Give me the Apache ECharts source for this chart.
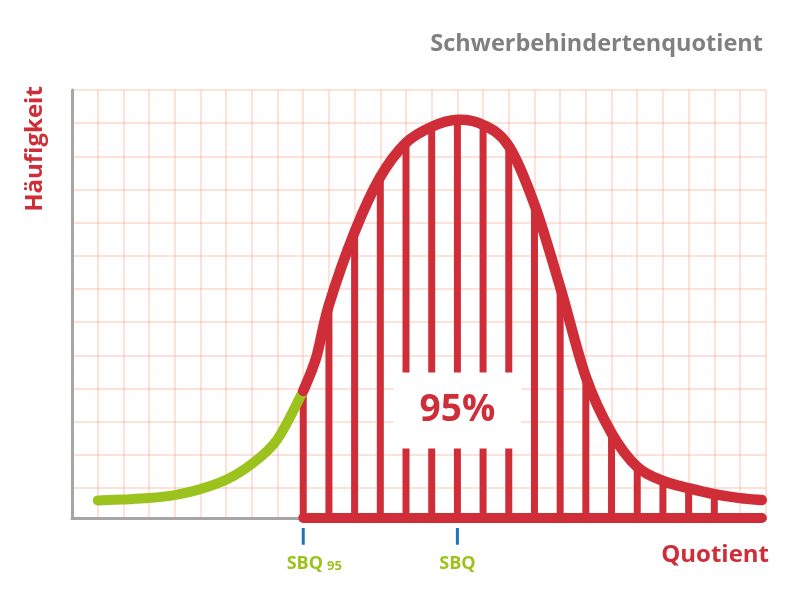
<!DOCTYPE html>
<html>
<head>
<meta charset="utf-8">
<script src="https://cdn.jsdelivr.net/npm/echarts@6/dist/echarts.min.js"></script>
<style>
html,body{margin:0;padding:0;background:#fff;}
#c{width:800px;height:593px;}
</style>
</head>
<body>
<div id="c"></div>
<script>
// ---- data ----
const titleText = 'Schwerbehindertenquotient';
const yTitle = 'Häufigkeit';
const xTitle = 'Quotient';
const centerLabel = '95%';
// green part of the curve (below SBQ95)
const greenX = [1, 2, 3, 4, 5, 6, 7, 8, 9];
const greenY = [0.53, 0.56, 0.60, 0.69, 0.87, 1.15, 1.63, 2.38, 3.83];
// red part of the curve (above SBQ95)
const redX = [9, 9.5, 10, 11, 12, 13, 14, 15, 16, 17, 18, 19, 20, 21, 22, 23, 24, 25, 26, 26.85];
const redY = [3.83, 4.82, 6.42, 8.62, 10.28, 11.31, 11.79, 12.0, 11.85, 11.21, 9.45, 6.96, 4.25, 2.56, 1.54, 1.12, 0.9, 0.72, 0.6, 0.54];
// hatch bars
const barX = [9, 10, 11, 12, 13, 14, 15, 16, 17, 18, 19, 20, 21, 22, 23, 24, 25];
const barY = [3.83, 6.42, 8.62, 10.28, 11.31, 11.79, 12.0, 11.85, 11.21, 9.45, 6.96, 4.25, 2.56, 1.54, 1.12, 0.9, 0.72];
// marked quotients on the x axis
const tickNames = ['SBQ95', 'SBQ'];
const tickPos = [9, 15];
const baseRange = [9, 26.85];

const RED = '#cf2d37';
const GREEN = '#9cc31d';
const GRAY = '#a6a6a6';
const BLUE = '#1f73b7';
const GRIDC = 'rgba(244,125,90,0.3)';
const FONT = 'Open Sans';

const chart = echarts.init(document.getElementById('c'), null, {renderer: 'canvas'});

// smooth curve through points (Catmull-Rom -> cubic Bezier), positioned by the chart's scales
function curveSeries(xs, ys, color, width, z) {
  return {
    type: 'custom', z: z, clip: false, silent: true,
    data: xs.map(function (x, i) { return [x, ys[i]]; }),
    renderItem: function (params, api) {
      if (params.dataIndex !== 0) return null;
      const p = xs.map(function (x, i) { return api.coord([x, ys[i]]); });
      let d = 'M' + p[0][0] + ' ' + p[0][1];
      for (let i = 0; i < p.length - 1; i++) {
        const p0 = p[i - 1] || p[i];
        const p1 = p[i];
        const p2 = p[i + 1];
        const p3 = p[i + 2] || p[i + 1];
        const c1x = p1[0] + (p2[0] - p0[0]) / 6, c1y = p1[1] + (p2[1] - p0[1]) / 6;
        const c2x = p2[0] - (p3[0] - p1[0]) / 6, c2y = p2[1] - (p3[1] - p1[1]) / 6;
        d += ' C' + c1x + ' ' + c1y + ' ' + c2x + ' ' + c2y + ' ' + p2[0] + ' ' + p2[1];
      }
      return {
        type: 'path', shape: {pathData: d},
        style: {fill: null, stroke: color, lineWidth: width, lineCap: 'round', lineJoin: 'round'}
      };
    }
  };
}

const tickLineData = [];
tickPos.forEach(function (p, i) {
  if (i > 0) tickLineData.push('-');
  tickLineData.push([p, -0.3], [p, -0.81]);
});

const tickLabelData = tickPos.map(function (p, i) {
  const item = {value: [p, -1.3, tickNames[i]]};
  if (/\d/.test(tickNames[i])) item.label = {offset: [11, 0]};
  return item;
});

chart.setOption({
  animation: false,
  backgroundColor: '#fff',
  grid: {left: 72, right: 34.3, top: 90, bottom: 75, containLabel: false},
  xAxis: {
    type: 'value', min: 0, max: 27, interval: 1,
    axisLine: {show: true, onZero: true, lineStyle: {color: GRAY, width: 3}},
    axisTick: {show: false}, axisLabel: {show: false},
    splitLine: {show: true, lineStyle: {color: GRIDC, width: 1.5}}
  },
  yAxis: [{
    type: 'value', min: 0, max: 12.9,
    axisLine: {show: true, lineStyle: {color: GRAY, width: 3}},
    axisTick: {show: false}, axisLabel: {show: false},
    splitLine: {show: false}
  }, {
    type: 'value', min: 0, max: 12.9, interval: 1, inverse: true, position: 'left',
    axisLine: {show: false}, axisTick: {show: false}, axisLabel: {show: false},
    splitLine: {show: true, lineStyle: {color: GRIDC, width: 1.5}}
  }],
  series: [
    {
      type: 'bar', barWidth: 7, z: 2,
      itemStyle: {color: RED},
      data: barX.map(function (x, i) { return [x, barY[i]]; })
    },
    curveSeries(greenX, greenY, GREEN, 10, 3),
    curveSeries(redX, redY, RED, 10.5, 4),
    {
      type: 'line', z: 4, symbol: 'none', clip: false,
      lineStyle: {color: RED, width: 10, cap: 'round'},
      data: [[baseRange[0], 0], [baseRange[1], 0]]
    },
    {
      type: 'line', z: 4, symbol: 'none', clip: false, connectNulls: false,
      lineStyle: {color: BLUE, width: 3, cap: 'butt'},
      data: tickLineData
    },
    {
      type: 'scatter', z: 5, symbolSize: 0, clip: false,
      itemStyle: {opacity: 1},
      data: [[15, 3.24]],
      label: {
        show: true, position: 'inside', formatter: centerLabel, opacity: 1,
        color: RED, fontFamily: FONT, fontWeight: 'bold', fontSize: 37,
        backgroundColor: '#ffffff', padding: [20, 26, 19, 26], lineHeight: 37
      }
    },
    {
      type: 'scatter', z: 5, symbolSize: 0, clip: false,
      itemStyle: {opacity: 1},
      data: tickLabelData,
      label: {
        show: true, position: 'inside', opacity: 1,
        formatter: function (p) {
          const n = p.data.value[2];
          const m = n.match(/^([A-Z]+)(\d*)$/);
          return m[2] ? '{a|' + m[1] + '}{b|' + m[2] + '}' : '{a|' + m[1] + '}';
        },
        rich: {
          a: {color: GREEN, fontFamily: FONT, fontWeight: 'bold', fontSize: 18, lineHeight: 24, verticalAlign: 'bottom'},
          b: {color: GREEN, fontFamily: FONT, fontWeight: 'bold', fontSize: 13, lineHeight: 11, verticalAlign: 'bottom', padding: [0, 0, 0, 4]}
        }
      }
    }
  ],
  graphic: [
    {
      type: 'text', right: 37, top: 32, z: 10,
      style: {text: titleText, fill: '#808080', font: 'bold 23.5px "Open Sans"'}
    },
    {
      type: 'text', x: 35, y: 149, rotation: Math.PI / 2, z: 10,
      style: {text: yTitle, fill: RED, font: 'bold 24px "Open Sans"', align: 'center', verticalAlign: 'middle'}
    },
    {
      type: 'text', right: 31, top: 543, z: 10,
      style: {text: xTitle, fill: RED, font: 'bold 24px "Open Sans"'}
    }
  ]
});
</script>
</body>
</html>
